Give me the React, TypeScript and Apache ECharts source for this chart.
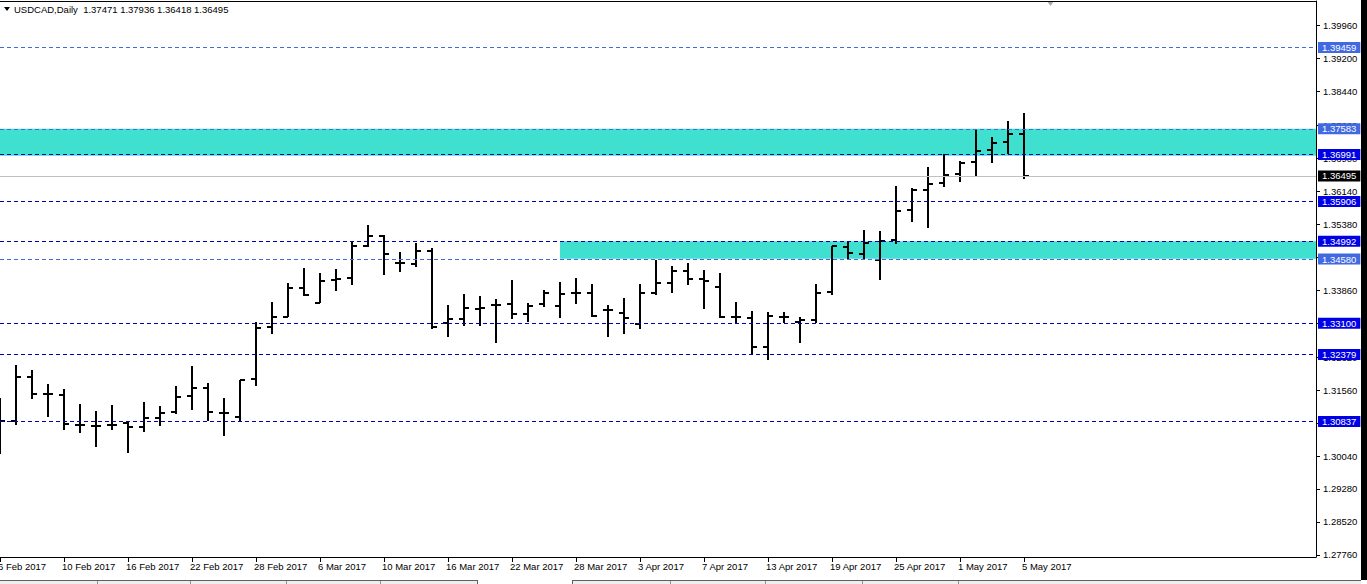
import React, { useEffect, useRef } from "react";
import * as echarts from "echarts";

const symbolName = "USDCAD";
const timeframe = "Daily";

// x tick positions (bar index) and their date labels
const xTickIndex = [0, 4, 8, 12, 16, 20, 24, 28, 32, 36, 40, 44, 48, 52, 56, 60, 64];
const xTickLabels = [
  "6 Feb 2017", "10 Feb 2017", "16 Feb 2017", "22 Feb 2017", "28 Feb 2017", "6 Mar 2017",
  "10 Mar 2017", "16 Mar 2017", "22 Mar 2017", "28 Mar 2017", "3 Apr 2017", "7 Apr 2017",
  "13 Apr 2017", "19 Apr 2017", "25 Apr 2017", "1 May 2017", "5 May 2017",
];

// price scale tick labels
const yTicks = [
  1.2776, 1.2852, 1.2928, 1.3004, 1.308, 1.3156, 1.3232, 1.331, 1.3386,
  1.3462, 1.3538, 1.3614, 1.369, 1.3766, 1.3844, 1.392, 1.3996,
];

// daily OHLC, 6 Feb 2017 .. 5 May 2017
const opens = [
  1.303, 1.30854, 1.31855, 1.31463, 1.31447, 1.30755, 1.30732, 1.30755, 1.30794, 1.30702,
  1.30923, 1.31062, 1.3143, 1.31615, 1.31038, 1.30932, 1.31815, 1.33021, 1.33251, 1.33906,
  1.33574, 1.34097, 1.34151, 1.34881, 1.35112, 1.34482, 1.34459, 1.34773, 1.33099, 1.33198,
  1.33422, 1.33521, 1.33537, 1.33314, 1.33537, 1.33505, 1.33805, 1.33805, 1.33406, 1.33348,
  1.33083, 1.33798, 1.34035, 1.34312, 1.34114, 1.33943, 1.33238, 1.33228, 1.3256, 1.33251,
  1.33136, 1.33175, 1.33814, 1.34851, 1.34697, 1.34559, 1.3502, 1.35711, 1.36172, 1.3634,
  1.36541, 1.36825, 1.37094, 1.37286, 1.37471,
];
const highs = [
  1.3137, 1.32138, 1.32023, 1.31693, 1.31578, 1.31239, 1.31078, 1.31216, 1.30831, 1.31278,
  1.312, 1.31654, 1.32115, 1.31716, 1.31384, 1.31792, 1.33136, 1.33597, 1.34021, 1.34367,
  1.34252, 1.34344, 1.35003, 1.35365, 1.35135, 1.3475, 1.34943, 1.34828, 1.33521, 1.33775,
  1.33729, 1.33653, 1.34097, 1.33574, 1.33867, 1.34044, 1.34137, 1.34005, 1.33521, 1.33676,
  1.34005, 1.34559, 1.3442, 1.34496, 1.34328, 1.34266, 1.33597, 1.3339, 1.33367, 1.33367,
  1.33251, 1.34005, 1.34888, 1.3498, 1.3525, 1.35227, 1.36264, 1.36211, 1.36709, 1.37002,
  1.36848, 1.37583, 1.37387, 1.3777, 1.37936,
];
const lows = [
  1.30086, 1.30755, 1.31347, 1.30946, 1.3064, 1.30564, 1.30255, 1.3064, 1.30103, 1.30601,
  1.30732, 1.31002, 1.31101, 1.30847, 1.30508, 1.30847, 1.31654, 1.32846, 1.33251, 1.33729,
  1.33574, 1.33844, 1.33982, 1.34865, 1.34213, 1.34289, 1.34404, 1.32961, 1.32784, 1.33037,
  1.33037, 1.32638, 1.33192, 1.33136, 1.33482, 1.33215, 1.33544, 1.33251, 1.32777, 1.32853,
  1.32968, 1.33752, 1.33791, 1.33982, 1.33422, 1.33215, 1.33113, 1.32379, 1.32253, 1.33099,
  1.32638, 1.33113, 1.33752, 1.34582, 1.34582, 1.34097, 1.3492, 1.35428, 1.35289, 1.36234,
  1.36364, 1.36479, 1.36788, 1.37002, 1.36418,
];
const closes = [
  1.3084, 1.31855, 1.31463, 1.31463, 1.30778, 1.30755, 1.30732, 1.30755, 1.30716, 1.30909,
  1.31038, 1.31407, 1.31615, 1.31062, 1.31025, 1.31792, 1.32998, 1.33251, 1.33906, 1.33752,
  1.34081, 1.34114, 1.34881, 1.35112, 1.3469, 1.34482, 1.34773, 1.33007, 1.33192, 1.33445,
  1.33445, 1.33521, 1.33314, 1.33498, 1.33791, 1.33768, 1.33805, 1.33268, 1.33406, 1.33215,
  1.33791, 1.34017, 1.34312, 1.34114, 1.34081, 1.33238, 1.33238, 1.3256, 1.33268, 1.33251,
  1.33175, 1.33805, 1.34881, 1.34713, 1.34957, 1.35003, 1.35695, 1.36172, 1.3631, 1.36518,
  1.36801, 1.37078, 1.37249, 1.37463, 1.36495,
];

// horizontal levels drawn on the chart
const levels = [1.39459, 1.37583, 1.36991, 1.35906, 1.34992, 1.3458, 1.331, 1.32379, 1.30837];

// rectangles (zones)
const zoneTop = [1.37583, 1.34992];
const zoneBottom = [1.3696, 1.3459];
const zoneStartIndex = [0, 35];

const X_MAX = 82.25;
const Y_MIN = 1.27712;
const Y_MAX = 1.40529;
const FONT = "Liberation Sans";

export default function App() {
  const ref = useRef<HTMLDivElement>(null);

  useEffect(() => {
    if (!ref.current) return;
    const chart = echarts.init(ref.current, null, { renderer: "svg" });

    const bars = opens.map((o, i) => [i, o, highs[i], lows[i], closes[i]]);
    const n = opens.length - 1;
    const lastPrice = closes[n];
    const lightSet = new Set([1.39459, 1.37583, 1.3458]);

    const levelLines: any[] = levels.map((v) => {
      const light = lightSet.has(v);
      return {
        yAxis: v,
        lineStyle: { color: light ? "#4169e1" : "#0000b0", type: [4, 3], width: 1 },
        label: {
          show: true,
          position: "end",
          distance: 2,
          formatter: v.toFixed(5),
          color: "#fff",
          backgroundColor: light ? "#4169e1" : "#0000e6",
          padding: [1, 4, 0, 4],
          lineHeight: 10,
          fontSize: 9.5,
          fontFamily: FONT,
        },
      };
    });
    levelLines.push({
      yAxis: lastPrice,
      lineStyle: { color: "#c0c0c0", type: "solid", width: 1 },
      label: {
        show: true,
        position: "end",
        distance: 2,
        formatter: lastPrice.toFixed(5),
        color: "#fff",
        backgroundColor: "#000",
        padding: [1, 4, 0, 4],
        lineHeight: 10,
        fontSize: 9.5,
        fontFamily: FONT,
      },
    });

    const zones = zoneTop.map((t, i) => [
      { xAxis: zoneStartIndex[i], yAxis: t },
      { xAxis: X_MAX, yAxis: zoneBottom[i] },
    ]);

    const title = `${symbolName},${timeframe}  ${opens[n].toFixed(5)} ${highs[n].toFixed(5)} ${lows[n].toFixed(5)} ${closes[n].toFixed(5)}`;

    const tabSeps = [97, 190, 286, 380, 670, 765, 862, 958];

    chart.setOption({
      animation: false,
      backgroundColor: "#fff",
      textStyle: { fontFamily: FONT },
      title: {
        text: title,
        left: 14,
        top: 4,
        padding: 0,
        textStyle: { fontSize: 9.5, fontWeight: "normal", color: "#000", fontFamily: FONT },
      },
      grid: { left: 0, right: 51, top: 1, bottom: 27, containLabel: false, outerBoundsMode: "none" },
      xAxis: [
        {
          type: "value",
          min: 0,
          max: X_MAX,
          position: "bottom",
          axisLine: { show: true, onZero: false, lineStyle: { color: "#000", width: 1 } },
          axisTick: { show: true, customValues: xTickIndex, length: 5, lineStyle: { color: "#000" } },
          axisLabel: {
            customValues: xTickIndex,
            formatter: (v: number) => {
              const k = xTickIndex.indexOf(Math.round(v));
              return k >= 0 ? xTickLabels[k] : "";
            },
            align: "left",
            margin: 4,
            fontSize: 9.5,
            color: "#000",
            fontFamily: FONT,
            padding: [0, 0, 0, -2],
          },
          splitLine: { show: false },
        },
        {
          type: "value",
          min: 0,
          max: X_MAX,
          position: "top",
          axisLine: { show: true, onZero: false, lineStyle: { color: "#000", width: 1 } },
          axisTick: { show: false },
          axisLabel: { show: false },
          splitLine: { show: false },
        },
      ],
      yAxis: {
        type: "value",
        position: "right",
        min: Y_MIN,
        max: Y_MAX,
        axisLine: { show: true, onZero: false, lineStyle: { color: "#000", width: 1 } },
        axisTick: { show: true, customValues: yTicks, length: 4, lineStyle: { color: "#000" } },
        axisLabel: {
          customValues: yTicks,
          formatter: (v: number) => v.toFixed(5),
          margin: 7,
          fontSize: 9.5,
          color: "#000",
          fontFamily: FONT,
        },
        splitLine: { show: false },
      },
      series: [
        {
          type: "line",
          xAxisIndex: 0,
          yAxisIndex: 0,
          data: [],
          z: 1,
          silent: true,
          markArea: {
            silent: true,
            itemStyle: { color: "#40e0d0", opacity: 1 },
            label: { show: false },
            data: zones,
          },
        },
        {
          type: "line",
          xAxisIndex: 0,
          yAxisIndex: 0,
          data: [],
          z: 2,
          silent: true,
          markLine: {
            silent: true,
            symbol: ["none", "none"],
            precision: 5,
            data: levelLines,
          },
        },
        {
          type: "custom",
          xAxisIndex: 0,
          yAxisIndex: 0,
          z: 3,
          clip: true,
          silent: true,
          data: bars,
          encode: { x: 0, y: [1, 2, 3, 4] },
          renderItem: (params: any, api: any) => {
            const i = api.value(0);
            const o = api.coord([i, api.value(1)]);
            const h = api.coord([i, api.value(2)]);
            const l = api.coord([i, api.value(3)]);
            const c = api.coord([i, api.value(4)]);
            const x = Math.round(h[0]);
            const st = { stroke: "#000", lineWidth: 2 };
            const yo = Math.round(o[1]);
            const yc = Math.round(c[1]);
            return {
              type: "group",
              children: [
                { type: "line", shape: { x1: x, y1: Math.round(h[1]), x2: x, y2: Math.round(l[1]) }, style: st },
                { type: "line", shape: { x1: x - 5, y1: yo, x2: x, y2: yo }, style: st },
                { type: "line", shape: { x1: x, y1: yc, x2: x + 5, y2: yc }, style: st },
              ],
            };
          },
        },
      ],
      graphic: [
        { type: "polygon", shape: { points: [[4, 7], [10, 7], [7, 11]] }, style: { fill: "#000" } },
        { type: "polygon", shape: { points: [[1047, 1], [1054, 1], [1050.5, 6]] }, style: { fill: "#a8a8a8" } },
        { type: "rect", shape: { x: 1361, y: 0, width: 6, height: 580 }, style: { fill: "#000" } },
        { type: "rect", shape: { x: 0, y: 581, width: 477, height: 3 }, style: { fill: "#eeeeee" } },
        { type: "rect", shape: { x: 572, y: 581, width: 789, height: 3 }, style: { fill: "#eeeeee" } },
        { type: "line", shape: { x1: 0, y1: 580.5, x2: 477, y2: 580.5 }, style: { stroke: "#606060", lineWidth: 1 } },
        { type: "line", shape: { x1: 572, y1: 580.5, x2: 1361, y2: 580.5 }, style: { stroke: "#606060", lineWidth: 1 } },
        { type: "line", shape: { x1: 477.5, y1: 580, x2: 477.5, y2: 584 }, style: { stroke: "#606060", lineWidth: 1 } },
        { type: "line", shape: { x1: 572.5, y1: 580, x2: 572.5, y2: 584 }, style: { stroke: "#606060", lineWidth: 1 } },
        ...tabSeps.map((sx) => ({
          type: "line",
          shape: { x1: sx + 0.5, y1: 581, x2: sx + 0.5, y2: 584 },
          style: { stroke: "#909090", lineWidth: 1 },
        })),
      ],
    });

    return () => chart.dispose();
  }, []);

  return (
    <div
      ref={ref}
      style={{ position: "fixed", left: 0, top: 0, width: 1367, height: 584, background: "#fff" }}
    />
  );
}
